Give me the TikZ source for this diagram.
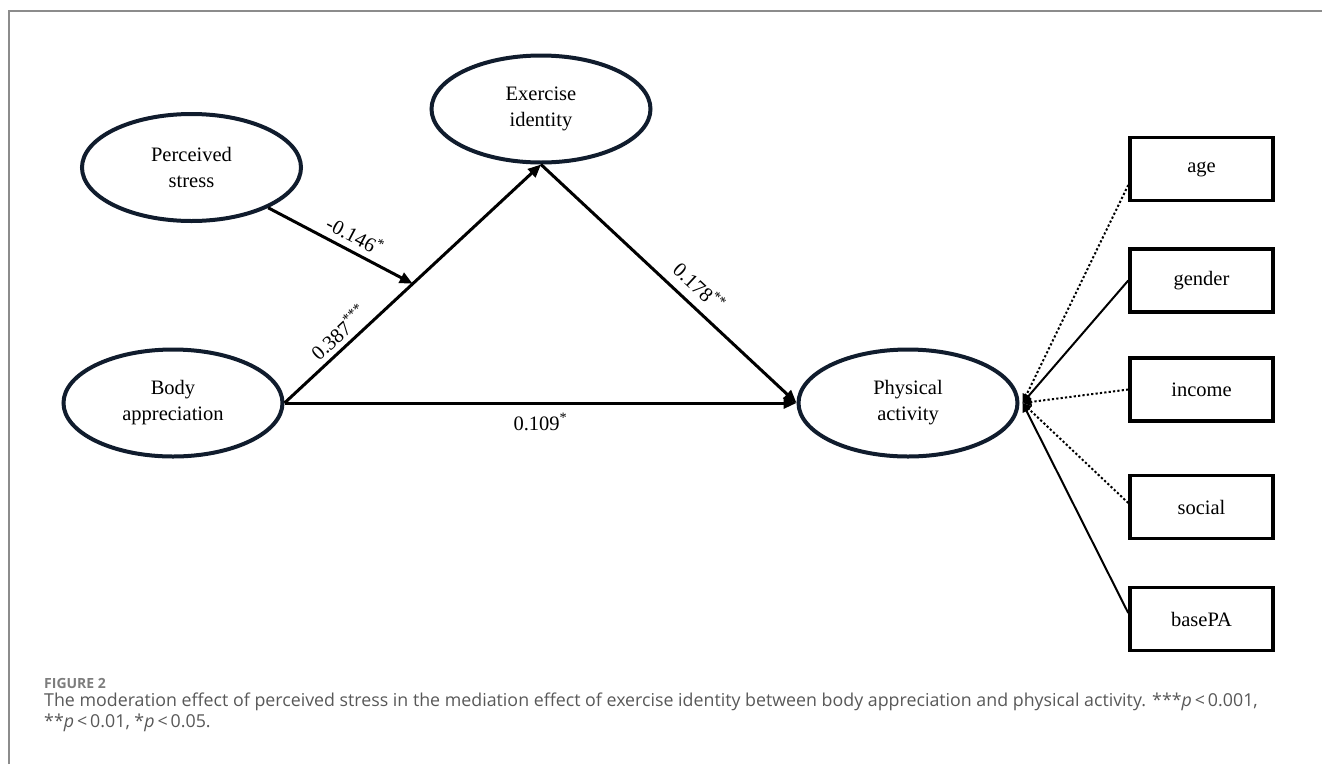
\documentclass[tikz,border=0pt]{standalone}
\usepackage{fontspec}
\setmainfont{Liberation Serif}
\newfontfamily\capfont{Open Sans}
\usetikzlibrary{shapes.geometric,arrows.meta,calc}
\definecolor{navy}{RGB}{16,28,45}
\definecolor{framegray}{RGB}{140,140,140}
\definecolor{capgray}{RGB}{88,88,88}
\definecolor{figgray}{RGB}{125,125,125}
\begin{document}
\begin{tikzpicture}[x=1pt,y=-1pt,
  latent/.style={ellipse, draw=navy, line width=4pt, minimum width=219pt, minimum height=107pt,
    inner sep=0pt, align=center, font=\fontsize{20.5}{26}\selectfont},
  obs/.style={rectangle, draw=black, line width=3.5pt, minimum width=143pt, minimum height=63pt,
    inner sep=0pt, font=\fontsize{20.5}{24}\selectfont},
  effect/.style={line width=3pt, -{Triangle[length=13pt,width=11pt]}},
  ctl/.style={line width=2pt, -{Triangle[length=9pt,width=8pt]}},
  dotline/.style={ctl, dash pattern=on 2.2pt off 2.2pt},
  lab/.style={font=\fontsize{20.5}{24}\selectfont, sloped, inner sep=6pt},
  capline/.style={anchor=base west, inner sep=0pt, text=capgray, font=\capfont\fontsize{17.8}{20}\selectfont}
]
\useasboundingbox (0,0) rectangle (1322,764);
\draw[framegray, line width=1.5pt] (9,764) -- (9,11) -- (1322,11);

% latent variables
\node[latent] (ps) at (191.5,167.5) {Perceived\\stress};
\node[latent] (ei) at (541,109) {Exercise\\identity};
\node[latent] (ba) at (173,403) {Body\\appreciation};
\node[latent] (pa) at (908,403) {Physical\\activity};

% observed covariates
\node[obs] (age) at (1201.5,169) {age};
\node[obs] (gender) at (1201.5,280.5) {gender};
\node[obs] (income) at (1201.5,389.5) {income};
\node[obs] (social) at (1201.5,507) {social};
\node[obs] (basepa) at (1201.5,619) {basePA};

% structural paths
\draw[effect] (ba.east) -- (ei.south)
  node[lab, pos=0.25, above, inner sep=5pt] {0.387\textsuperscript{***}};
\draw[effect] (ei.south) -- (pa.west)
  node[lab, pos=0.57, above, inner sep=9pt] {0.178\textsuperscript{**}};
\draw[effect] (ba.east) -- (pa.west)
  node[lab, pos=0.5, below, inner sep=9pt] {0.109\textsuperscript{*}};
\coordinate (mid) at ($(ba.east)!0.5!(ei.south)$);
\draw[effect] (ps) -- (mid)
  node[lab, pos=0.55, above, inner sep=6pt] {-0.146\textsuperscript{*}};

% covariate paths
\coordinate (j) at ([xshift=3pt]pa.east);
\draw[dotline] ([yshift=-16pt]age.west) -- (j);
\draw[ctl] (gender.west) -- (j);
\draw[dotline] (income.west) -- (j);
\draw[dotline] ([yshift=4pt]social.west) -- (j);
\draw[ctl] ([yshift=6pt]basepa.west) -- (j);

% caption
\node[anchor=base west, inner sep=0pt, text=figgray, font=\capfont\bfseries\fontsize{14}{14}\selectfont] (fig) at (44,688) {FIGURE 2};
\node[capline] (cap1) at (44,706) {The moderation effect of perceived stress in the mediation effect of exercise identity between body appreciation and physical activity. ***\textit{p}\,<\,0.001,};
\node[capline] (cap2) at (44,727) {**\textit{p}\,<\,0.01, *\textit{p}\,<\,0.05.};
\end{tikzpicture}
\end{document}
